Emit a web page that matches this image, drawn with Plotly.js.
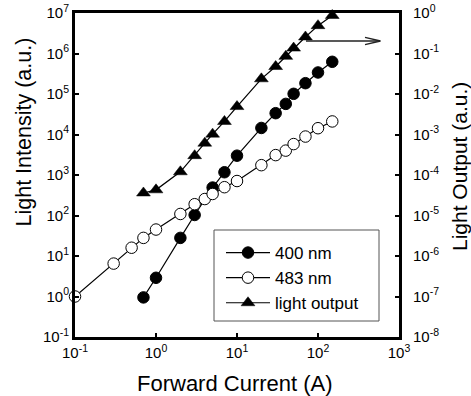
<!DOCTYPE html>
<html>
<head>
<meta charset="utf-8">
<script src="https://cdn.plot.ly/plotly-3.0.1.min.js"></script>
<style>html,body{margin:0;padding:0;background:#fff;}#chart{width:471px;height:396px;}</style>
</head>
<body>
<div id="chart"></div>
<script>
// Forward current (A)
const current400 = [0.7, 1, 2, 3, 5, 7, 10, 20, 30, 40, 50, 70, 100, 150];
const intensity400 = [0.95, 2.9, 28, 103, 490, 1170, 3000, 14500, 33600, 57000, 101000, 185000, 340000, 624000];

const current483 = [0.1, 0.3, 0.5, 0.7, 1, 2, 3, 4, 5, 7, 10, 20, 30, 40, 50, 70, 100, 150];
const intensity483 = [1.0, 6.5, 16, 28, 45, 109, 190, 255, 340, 500, 710, 1750, 3100, 4000, 5800, 8900, 14300, 21000];

const currentOut = [0.7, 1, 2, 3, 4, 5, 7, 10, 20, 30, 40, 50, 70, 100, 150];
const lightOutput = [3.6e-5, 4.3e-5, 1.2e-4, 3.0e-4, 6.1e-4, 1.02e-3, 2.1e-3, 4.9e-3, 2.37e-2, 4.77e-2, 8.5e-2, 0.136, 0.256, 0.487, 0.87];

const seriesNames = ['400 nm', '483 nm', 'light output'];

const xTickVals = [0.1, 1, 10, 100, 1000];
const xTickText = ['10<sup>-1</sup>', '10<sup>0</sup>', '10<sup>1</sup>', '10<sup>2</sup>', '10<sup>3</sup>'];
const yTickVals = [1e-1, 1e0, 1e1, 1e2, 1e3, 1e4, 1e5, 1e6, 1e7];
const yTickText = ['10<sup>-1</sup>', '10<sup>0</sup>', '10<sup>1</sup>', '10<sup>2</sup>', '10<sup>3</sup>', '10<sup>4</sup>', '10<sup>5</sup>', '10<sup>6</sup>', '10<sup>7</sup>'];
const y2TickVals = [1e-8, 1e-7, 1e-6, 1e-5, 1e-4, 1e-3, 1e-2, 1e-1, 1e0];
const y2TickText = ['10<sup>-8</sup>', '10<sup>-7</sup>', '10<sup>-6</sup>', '10<sup>-5</sup>', '10<sup>-4</sup>', '10<sup>-3</sup>', '10<sup>-2</sup>', '10<sup>-1</sup>', '10<sup>0</sup>'];

const FONT = 'Liberation Sans, Arial, sans-serif';

const traces = [
  {x: current400, y: intensity400, name: seriesNames[0], type: 'scatter', mode: 'lines+markers',
   line: {color: '#000', width: 1.2},
   marker: {symbol: 'circle', size: 11.5, color: '#000', line: {color: '#000', width: 1}},
   cliponaxis: false},
  {x: current483, y: intensity483, name: seriesNames[1], type: 'scatter', mode: 'lines+markers',
   line: {color: '#000', width: 1.2},
   marker: {symbol: 'circle', size: 11.5, color: '#fff', line: {color: '#000', width: 1}},
   cliponaxis: false},
  {x: currentOut, y: lightOutput, name: seriesNames[2], type: 'scatter', mode: 'lines+markers', yaxis: 'y2',
   line: {color: '#000', width: 1.2},
   marker: {symbol: 'triangle-up', size: 12, color: '#000', line: {color: '#000', width: 0.5}},
   cliponaxis: false}
];

// pixel helpers for the plot frame (75..399, 13..337)
const L = 75, R = 399, T = 13, B = 337;
const px = v => (v - L) / (R - L);
const py = v => (B - v) / (B - T);

const layout = {
  width: 471, height: 396,
  margin: {l: L, r: 471 - R, t: T, b: 396 - B, pad: 0},
  paper_bgcolor: '#fff', plot_bgcolor: '#fff',
  font: {family: FONT, color: '#000', size: 15},
  showlegend: true,
  legend: {x: px(221), y: py(235), xanchor: 'left', yanchor: 'top',
           bgcolor: 'rgba(0,0,0,0)', borderwidth: 0,
           font: {family: FONT, size: 17, color: '#000'}, itemwidth: 44, tracegroupgap: 0},
  xaxis: {type: 'log', range: [-1, 3], showgrid: false, zeroline: false,
          showline: true, linecolor: '#000', linewidth: 3, mirror: true,
          ticks: 'inside', ticklen: 4, tickwidth: 2, tickcolor: '#000',
          tickvals: xTickVals, ticktext: xTickText,
          tickfont: {family: FONT, size: 15, color: '#000'}},
  yaxis: {type: 'log', range: [-1, 7], showgrid: false, zeroline: false,
          showline: true, linecolor: '#000', linewidth: 3,
          ticks: 'inside', ticklen: 4, tickwidth: 2, tickcolor: '#000',
          tickvals: yTickVals, ticktext: yTickText,
          tickfont: {family: FONT, size: 15, color: '#000'}},
  yaxis2: {type: 'log', range: [-8, 0], overlaying: 'y', side: 'right', showgrid: false, zeroline: false,
           showline: true, linecolor: '#000', linewidth: 3,
           ticks: 'inside', ticklen: 4, tickwidth: 2, tickcolor: '#000',
           tickvals: y2TickVals, ticktext: y2TickText,
           ticklabelposition: 'outside', ticklabelstandoff: 8,
           tickfont: {family: FONT, size: 15, color: '#000'}},
  shapes: [
    // legend box
    {type: 'rect', xref: 'paper', yref: 'paper', x0: px(214), x1: px(379), y0: py(321), y1: py(230),
     line: {color: '#555', width: 1}, fillcolor: 'rgba(255,255,255,0)', layer: 'below'},
    // arrow pointing to right axis
    {type: 'line', xref: 'paper', yref: 'paper', x0: px(306), x1: px(380), y0: py(41), y1: py(41),
     line: {color: '#222', width: 1.3}},
    {type: 'path', xref: 'paper', yref: 'paper',
     path: 'M' + px(365) + ',' + py(37.3) + ' L' + px(380.5) + ',' + py(41) + ' L' + px(365) + ',' + py(44.7),
     line: {color: '#222', width: 1.3}}
  ],
  annotations: [
    {text: 'Forward Current (A)', xref: 'paper', yref: 'paper', x: px(234.5), y: py(383),
     xanchor: 'center', yanchor: 'middle', showarrow: false, font: {family: FONT, size: 22, color: '#000'}},
    {text: 'Light Intensity (a.u.)', xref: 'paper', yref: 'paper', x: px(23.5), y: py(132),
     xanchor: 'center', yanchor: 'middle', textangle: -90, showarrow: false, font: {family: FONT, size: 21.5, color: '#000'}},
    {text: 'Light Output (a.u.)', xref: 'paper', yref: 'paper', x: px(459), y: py(167),
     xanchor: 'center', yanchor: 'middle', textangle: -90, showarrow: false, font: {family: FONT, size: 21, color: '#000'}}
  ]
};

Plotly.newPlot('chart', traces, layout, {staticPlot: true, displayModeBar: false});
</script>
</body>
</html>
